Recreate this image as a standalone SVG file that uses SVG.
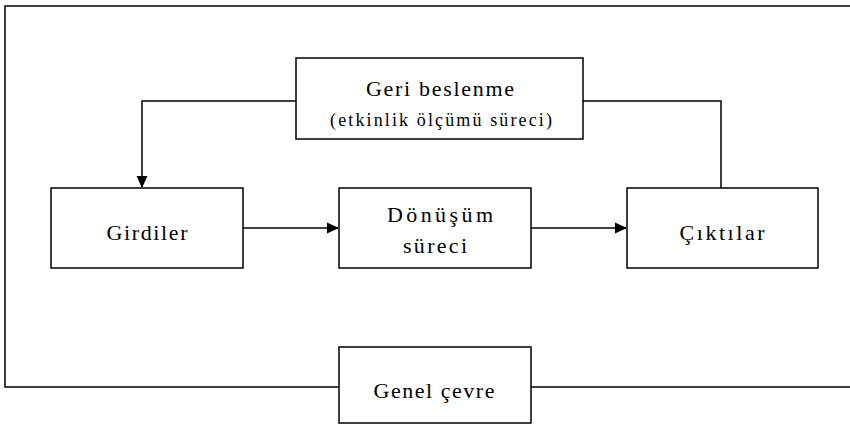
<svg xmlns="http://www.w3.org/2000/svg" width="850" height="430" viewBox="0 0 850 430">
<style>
.box{fill:#fff;stroke:#000;stroke-width:1.5}
.ln{fill:none;stroke:#000;stroke-width:1.5}
text{font-size:22px;fill:#000;text-anchor:middle}
.sm{font-size:18px}
</style>
<defs>
<marker id="ah" markerWidth="12" markerHeight="12" refX="11" refY="6" orient="auto" markerUnits="userSpaceOnUse">
<path d="M0,0.5 L12,6 L0,11.5 Z" fill="#000"/>
</marker>
</defs>
<g id="connectors">
<path class="ln" d="M850,6 H5 V387 H850"/>
<path class="ln" d="M296,101 H142 V187" marker-end="url(#ah)"/>
<path class="ln" d="M583,101 H721 V188"/>
<path class="ln" d="M243,228 H338" marker-end="url(#ah)"/>
<path class="ln" d="M531,228 H626" marker-end="url(#ah)"/>
</g>
<g font-family="'Liberation Serif', 'DejaVu Serif', serif">
<g id="feedback">
<rect class="box" x="296" y="58" width="287" height="81"/>
<text x="440" y="96" textLength="148" lengthAdjust="spacing">Geri beslenme</text>
<text class="sm" x="441" y="126" textLength="222" lengthAdjust="spacing">(etkinlik ölçümü süreci)</text>
</g>
<g id="inputs">
<rect class="box" x="51" y="188" width="192" height="80"/>
<text x="147" y="240" textLength="81" lengthAdjust="spacing">Girdiler</text>
</g>
<g id="transformation">
<rect class="box" x="339" y="188" width="192" height="80"/>
<text x="440" y="222" textLength="106" lengthAdjust="spacing">Dönüşüm</text>
<text x="435" y="253" textLength="64" lengthAdjust="spacing">süreci</text>
</g>
<g id="outputs">
<rect class="box" x="627" y="188" width="191" height="80"/>
<text x="722" y="240" textLength="85" lengthAdjust="spacing">Çıktılar</text>
</g>
<g id="environment">
<rect class="box" x="339" y="347" width="192" height="76"/>
<text x="434" y="398" textLength="121" lengthAdjust="spacing">Genel çevre</text>
</g>
</g>
</svg>
